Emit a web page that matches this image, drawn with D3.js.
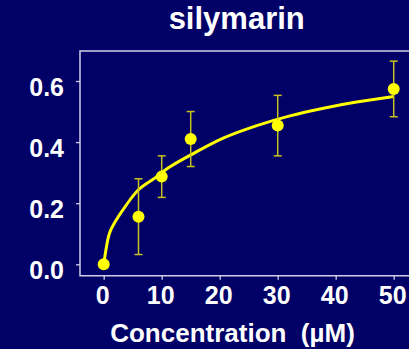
<!DOCTYPE html>
<html>
<head>
<meta charset="utf-8">
<script src="https://cdn.jsdelivr.net/npm/d3@7"></script>
<style>
  body { margin: 0; background: #000066; }
  svg { display: block; }
  text { font-family: "Liberation Sans", Arial, sans-serif; font-weight: bold; fill: #fff; }
</style>
</head>
<body>
<script>
// data
var conc = [0, 6, 10, 15, 30, 50];
var mean = [0.0, 0.156, 0.287, 0.41, 0.454, 0.574];
var sd = [0, 0.124, 0.068, 0.09, 0.099, 0.091];

// fitted curve
var fitX = [0, 0.7, 1.1, 2, 3.7, 6, 8.8, 11.1, 15.2, 20.6, 26.4, 32.1, 37.9, 43.6, 50];
var fitY = [0, 0.080, 0.107, 0.140, 0.189, 0.244, 0.282, 0.315, 0.360, 0.413, 0.454, 0.486, 0.511, 0.531, 0.549];

var xTicks = [0, 10, 20, 30, 40, 50];
var yTicks = [0, 0.2, 0.4, 0.6];

var width = 409, height = 349;

var svg = d3.select("body").append("svg")
    .attr("width", width)
    .attr("height", height);

svg.append("rect")
    .attr("width", width)
    .attr("height", height)
    .attr("fill", "#000066");

var x = d3.scaleLinear().domain([0, 50]).range([103.7, 393.7]);
var y = d3.scaleLinear().domain([0, 0.6]).range([264.3, 81]);

var frameLeft = 80, frameTop = 51, frameBottom = 275.7;

// frame (right side runs off the picture)
svg.append("path")
    .attr("d", "M" + (width + 10) + "," + frameTop + "H" + frameLeft + "V" + frameBottom + "H" + (width + 10))
    .attr("fill", "none")
    .attr("stroke", "#d0d0e8")
    .attr("stroke-width", 1.5);

// axes
var xAxis = svg.append("g")
    .attr("transform", "translate(0," + frameBottom + ")")
    .call(d3.axisBottom(x).tickValues(xTicks).tickSize(4).tickPadding(7));

var yAxis = svg.append("g")
    .attr("transform", "translate(" + frameLeft + ",0)")
    .call(d3.axisLeft(y).tickValues(yTicks).tickSize(4).tickPadding(12).tickFormat(d3.format(".1f")));

[xAxis, yAxis].forEach(function(g) {
    g.select(".domain").remove();
    g.selectAll(".tick line").attr("stroke", "#d0d0e8").attr("stroke-width", 1.3);
    g.selectAll(".tick text")
        .attr("fill", "#fff")
        .style("font-size", "25px")
        .style("font-family", "'Liberation Sans', Arial, sans-serif")
        .style("font-weight", "bold");
});
xAxis.selectAll(".tick text").attr("dx", -1.5);
yAxis.selectAll(".tick text").attr("dy", "0.57em");

// title + axis title
svg.append("text")
    .attr("x", 236.7)
    .attr("y", 29)
    .attr("text-anchor", "middle")
    .style("font-size", "31px")
    .text("silymarin");

svg.append("text")
    .attr("x", 232.5)
    .attr("y", 341.7)
    .attr("text-anchor", "middle")
    .style("font-size", "26px")
    .style("white-space", "pre")
    .attr("xml:space", "preserve")
    .text("Concentration  (\u00b5M)");

// fitted curve
var fit = fitX.map(function(d, i) { return { x: d, y: fitY[i] }; });
var line = d3.line()
    .x(function(d) { return x(d.x); })
    .y(function(d) { return y(d.y); })
    .curve(d3.curveCatmullRom.alpha(0.5));

svg.append("path")
    .datum(fit)
    .attr("d", line)
    .attr("fill", "none")
    .attr("stroke", "#ffff00")
    .attr("stroke-width", 3);

// error bars
var pts = conc.map(function(d, i) { return { c: d, m: mean[i], s: sd[i] }; });
var bars = svg.selectAll(".err")
    .data(pts.filter(function(d) { return d.s > 0; }))
    .enter()
    .append("g")
    .attr("class", "err")
    .attr("stroke", "#c8c020")
    .attr("stroke-width", 1.5);

bars.append("line")
    .attr("x1", function(d) { return x(d.c); })
    .attr("x2", function(d) { return x(d.c); })
    .attr("y1", function(d) { return y(d.m - d.s); })
    .attr("y2", function(d) { return y(d.m + d.s); });

[-1, 1].forEach(function(k) {
    bars.append("line")
        .attr("x1", function(d) { return x(d.c) - 4; })
        .attr("x2", function(d) { return x(d.c) + 4; })
        .attr("y1", function(d) { return y(d.m + k * d.s); })
        .attr("y2", function(d) { return y(d.m + k * d.s); });
});

// points
svg.selectAll(".pt")
    .data(pts)
    .enter()
    .append("circle")
    .attr("class", "pt")
    .attr("cx", function(d) { return x(d.c); })
    .attr("cy", function(d) { return y(d.m); })
    .attr("r", 6)
    .attr("fill", "#ffff00");
</script>
</body>
</html>
